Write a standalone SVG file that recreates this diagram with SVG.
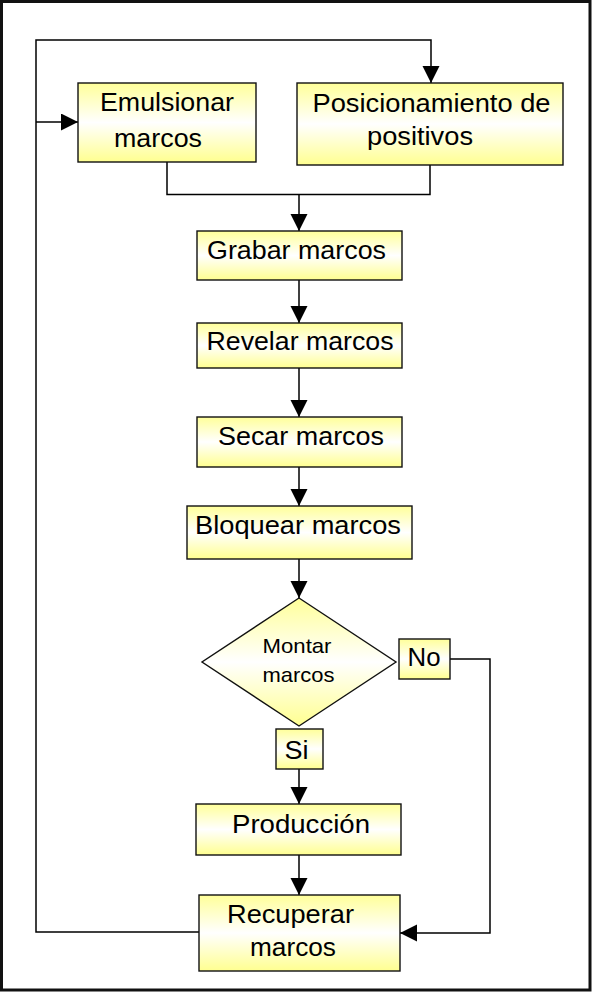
<svg xmlns="http://www.w3.org/2000/svg" width="592" height="992" viewBox="0 0 592 992">
  <style>
    .box { fill: url(#fillGrad); stroke: #111; stroke-width: 1.4; }
    .lbl { font-family: "Liberation Sans", Arial, sans-serif; font-size: 25px; fill: #000; }
    .sm { font-size: 21px; }
    .wire { fill: none; stroke: #000; stroke-width: 1.5; }
    .arrow { fill: none; stroke: #000; stroke-width: 1.5; marker-end: url(#head); }
  </style>
  <defs>
    <linearGradient id="fillGrad" x1="0" y1="0" x2="0" y2="1">
      <stop offset="0" stop-color="#FFFF99"/>
      <stop offset="0.5" stop-color="#FFFFFF"/>
      <stop offset="1" stop-color="#FFFF90"/>
    </linearGradient>
    <marker id="head" markerUnits="userSpaceOnUse" markerWidth="18" markerHeight="18" refX="17" refY="8.5" orient="auto">
      <path d="M0,0 L17,8.5 L0,17 z" fill="#000"/>
    </marker>
  </defs>

  <!-- outer frame -->
  <rect x="1.5" y="1.5" width="588.5" height="988.5" fill="#fff" stroke="#111" stroke-width="3"/>

  <g id="connectors">
    <!-- return loop from Recuperar back to the top -->
    <path class="wire" d="M199,932 L36,932 L36,122" stroke-width="2.6"/>
    <path class="arrow" d="M36,122 L36,40 L431,40 L431,83"/>
    <path class="arrow" d="M36,122 L78,122"/>
    <!-- merge of the two top boxes -->
    <path class="wire" d="M167,162 L167,194.5 L430,194.5 L430,165"/>
    <path class="arrow" d="M299,194.5 L299,231"/>
    <path class="arrow" d="M299,280 L299,323"/>
    <path class="arrow" d="M299,368 L299,417"/>
    <path class="arrow" d="M299,467 L299,506"/>
    <path class="arrow" d="M299,559 L299,598"/>
    <path class="arrow" d="M299,769 L299,804"/>
    <path class="arrow" d="M299,855 L299,895"/>
    <!-- "No" branch -->
    <path class="arrow" d="M450,659 L490,659 L490,933 L400,933"/>
  </g>

  <g id="emulsionar">
    <rect class="box" x="78" y="83" width="178" height="79"/>
    <text class="lbl" x="100" y="111" textLength="134" lengthAdjust="spacingAndGlyphs">Emulsionar</text>
    <text class="lbl" x="114" y="146.5" textLength="88" lengthAdjust="spacingAndGlyphs">marcos</text>
  </g>

  <g id="posicionamiento">
    <rect class="box" x="297" y="83" width="266" height="82"/>
    <text class="lbl" x="312.5" y="111.5" textLength="238" lengthAdjust="spacingAndGlyphs">Posicionamiento de</text>
    <text class="lbl" x="367" y="145" textLength="106" lengthAdjust="spacingAndGlyphs">positivos</text>
  </g>

  <g id="grabar">
    <rect class="box" x="197" y="231" width="205" height="49"/>
    <text class="lbl" x="207" y="258.5" textLength="179" lengthAdjust="spacingAndGlyphs">Grabar marcos</text>
  </g>

  <g id="revelar">
    <rect class="box" x="197" y="323" width="205" height="45"/>
    <text class="lbl" x="206.5" y="350" textLength="187" lengthAdjust="spacingAndGlyphs">Revelar marcos</text>
  </g>

  <g id="secar">
    <rect class="box" x="197" y="417" width="205" height="50"/>
    <text class="lbl" x="218" y="445" textLength="166" lengthAdjust="spacingAndGlyphs">Secar marcos</text>
  </g>

  <g id="bloquear">
    <rect class="box" x="187" y="506" width="225" height="53"/>
    <text class="lbl" x="195" y="533.5" textLength="206" lengthAdjust="spacingAndGlyphs">Bloquear marcos</text>
  </g>

  <g id="montar">
    <polygon class="box" points="299,598 396,662 299,726 202,662"/>
    <text class="lbl sm" x="262.5" y="652.5" textLength="69" lengthAdjust="spacingAndGlyphs">Montar</text>
    <text class="lbl sm" x="262.5" y="681.5" textLength="72" lengthAdjust="spacingAndGlyphs">marcos</text>
  </g>

  <g id="no">
    <rect class="box" x="399" y="639" width="51" height="40"/>
    <text class="lbl" x="407.5" y="666" textLength="33" lengthAdjust="spacingAndGlyphs">No</text>
  </g>

  <g id="si">
    <rect class="box" x="276" y="729" width="47" height="40"/>
    <text class="lbl" x="284.5" y="758.5" textLength="24" lengthAdjust="spacingAndGlyphs">Si</text>
  </g>

  <g id="produccion">
    <rect class="box" x="196" y="804" width="205" height="51"/>
    <text class="lbl" x="232" y="832.5" textLength="138" lengthAdjust="spacingAndGlyphs">Producción</text>
  </g>

  <g id="recuperar">
    <rect class="box" x="199" y="895" width="201" height="76"/>
    <text class="lbl" x="227" y="922.5" textLength="127" lengthAdjust="spacingAndGlyphs">Recuperar</text>
    <text class="lbl" x="250" y="956" textLength="86" lengthAdjust="spacingAndGlyphs">marcos</text>
  </g>
</svg>
